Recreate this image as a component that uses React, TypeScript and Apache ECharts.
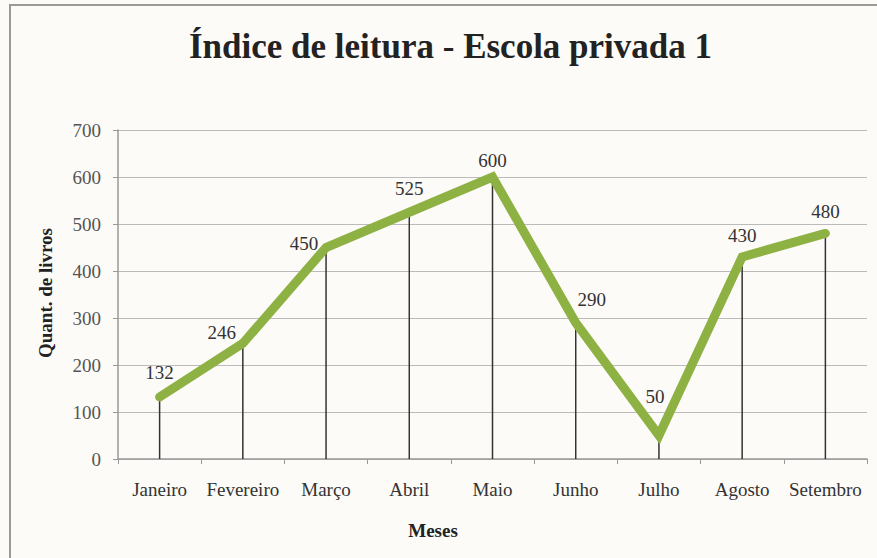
import React, { useEffect, useRef } from "react";
import * as echarts from "echarts";

const TITLE = "Índice de leitura - Escola privada 1";
const Y_NAME = "Quant. de livros";
const X_NAME = "Meses";
const MONTHS = ["Janeiro", "Fevereiro", "Março", "Abril", "Maio", "Junho", "Julho", "Agosto", "Setembro"];
const BOOKS = [132, 246, 450, 525, 600, 290, 50, 430, 480];
const Y_MIN = 0;
const Y_MAX = 700;
const Y_STEP = 100;

// label offsets (style only), per point [dx, dy]
const LABEL_OFFSETS: [number, number][] = [
  [0, -9], [-21, 5], [-22, 11], [0, -8], [0, -1], [16, -8], [-4, -24], [0, -6], [0, -6],
];

const SERIF = "'Liberation Serif', 'DejaVu Serif', serif";

export default function App() {
  const ref = useRef<HTMLDivElement>(null);
  useEffect(() => {
    if (!ref.current) return;
    const chart = echarts.init(ref.current, null, { renderer: "svg" });
    chart.setOption({
      animation: false,
      backgroundColor: "#fcfbf8",
      title: {
        text: TITLE,
        left: 184,
        top: 24,
        textStyle: { fontFamily: SERIF, fontSize: 35, fontWeight: "bold", color: "#222" },
      },
      grid: { left: 118, right: 10, top: 130, bottom: 99, containLabel: false },
      xAxis: {
        type: "category",
        data: MONTHS,
        boundaryGap: true,
        axisLine: { show: true, lineStyle: { color: "#999", width: 1.5 } },
        axisTick: { show: true, length: 5, inside: false, lineStyle: { color: "#999" } },
        axisLabel: { fontFamily: SERIF, fontSize: 19, color: "#333", margin: 21, interval: 0 },
        splitLine: { show: false },
      },
      yAxis: {
        type: "value",
        min: Y_MIN,
        max: Y_MAX,
        interval: Y_STEP,
        axisLine: { show: true, lineStyle: { color: "#999", width: 1.5 } },
        axisTick: { show: true, length: 5, lineStyle: { color: "#999" } },
        axisLabel: { fontFamily: SERIF, fontSize: 19, color: "#555", margin: 17 },
        splitLine: { show: true, lineStyle: { color: "#bbb", width: 1 } },
      },
      graphic: [
        {
          type: "rect",
          shape: { x: 10, y: 5, width: 900, height: 600 },
          style: { fill: "none", stroke: "#999", lineWidth: 2 },
          silent: true,
        },
        {
          type: "text",
          x: 45,
          y: 293,
          rotation: Math.PI / 2,
          style: {
            text: Y_NAME,
            font: `bold 19px ${SERIF}`,
            fill: "#222",
            textAlign: "center",
            textVerticalAlign: "middle",
          },
        },
        {
          type: "text",
          x: 433,
          y: 530,
          style: {
            text: X_NAME,
            font: `bold 19px ${SERIF}`,
            fill: "#222",
            textAlign: "center",
            textVerticalAlign: "middle",
          },
        },
      ],
      series: [
        {
          type: "bar",
          data: BOOKS,
          barWidth: 1.5,
          itemStyle: { color: "#333" },
          z: 1,
          silent: true,
        },
        {
          type: "line",
          data: BOOKS.map((v, i) => ({
            value: v,
            label: { offset: LABEL_OFFSETS[i] },
          })),
          z: 3,
          symbol: "circle",
          symbolSize: 2,
          showSymbol: true,
          itemStyle: { color: "#8db243" },
          lineStyle: { color: "#8db243", width: 9, cap: "round", join: "miter" },
          label: {
            show: true,
            position: "top",
            fontFamily: SERIF,
            fontSize: 19,
            color: "#333",
          },
        },
      ],
    });
    return () => chart.dispose();
  }, []);
  return <div ref={ref} style={{ position: "fixed", left: 0, top: 0, width: 877, height: 558 }} />;
}
